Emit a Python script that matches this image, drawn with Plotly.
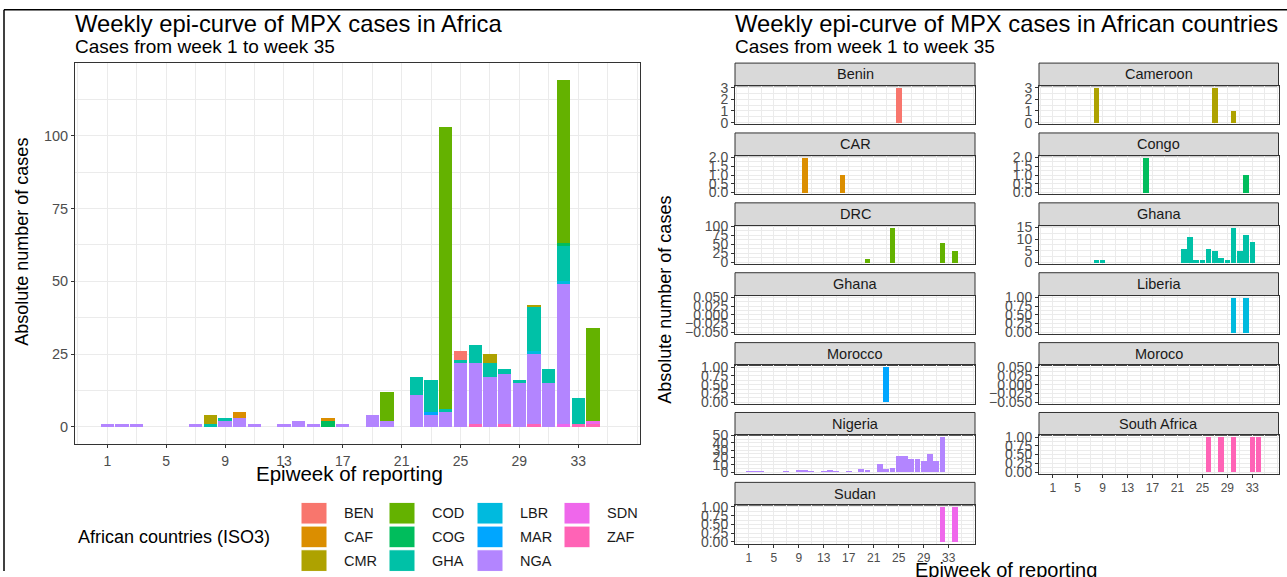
import plotly.graph_objects as go

W, H = 1287, 577

# ---------------- data ----------------
iso_codes = ["BEN", "CAF", "CMR", "COD", "COG", "GHA", "LBR", "MAR", "NGA", "SDN", "ZAF"]
iso_colors = ["#F8766D", "#DB8E00", "#AEA200", "#64B200", "#00BD5C", "#00C1A7",
              "#00BADE", "#00A6FF", "#B385FF", "#EF67EB", "#FF63B6"]

weeks_BEN = [25]
cases_BEN = [3]
weeks_CAF = [10, 16]
cases_CAF = [2, 1]
weeks_CMR = [8, 27, 30]
cases_CMR = [3, 3, 1]
weeks_COD = [20, 24, 32, 34]
cases_COD = [10, 97, 56, 32]
weeks_COG = [16, 32]
cases_COG = [2, 1]
weeks_GHA = [8, 9, 22, 23, 24, 25, 26, 27, 28, 29, 30, 31, 32, 33]
cases_GHA = [1, 1, 6, 11, 1, 1, 6, 5, 2, 1, 15, 5, 12, 9]
weeks_LBR = [30, 32]
cases_LBR = [1, 1]
weeks_MAR = [23]
cases_MAR = [1]
weeks_NGA = [1, 2, 3, 7, 9, 10, 11, 13, 14, 15, 17, 19, 20, 22, 23, 24, 25, 26, 27, 28, 29, 30, 31, 32]
cases_NGA = [1, 1, 1, 1, 2, 3, 1, 1, 2, 1, 1, 4, 2, 11, 4, 5, 22, 21, 17, 17, 15, 24, 15, 48]
weeks_SDN = [32, 34]
cases_SDN = [1, 1]
weeks_ZAF = [26, 28, 30, 33, 34]
cases_ZAF = [1, 1, 1, 1, 1]

series = {
    "BEN": (weeks_BEN, cases_BEN), "CAF": (weeks_CAF, cases_CAF), "CMR": (weeks_CMR, cases_CMR),
    "COD": (weeks_COD, cases_COD), "COG": (weeks_COG, cases_COG), "GHA": (weeks_GHA, cases_GHA),
    "LBR": (weeks_LBR, cases_LBR), "MAR": (weeks_MAR, cases_MAR), "NGA": (weeks_NGA, cases_NGA),
    "SDN": (weeks_SDN, cases_SDN), "ZAF": (weeks_ZAF, cases_ZAF),
}
color_of = dict(zip(iso_codes, iso_colors))

# facet panels: (strip label, iso code or None)
panel_names = ["Benin", "Cameroon", "CAR", "Congo", "DRC", "Ghana", "Ghana", "Liberia",
               "Morocco", "Moroco", "Nigeria", "South Africa", "Sudan"]
panel_codes = ["BEN", "CMR", "CAF", "COG", "COD", "GHA", None, "LBR",
               "MAR", None, "NGA", "ZAF", "SDN"]
panel_ydtick = [1, 1, 0.5, 0.5, 25, 5, 0.025, 0.25, 0.25, 0.025, 10, 0.25, 0.25]
panel_yfmt = ["d", "d", ".1f", ".1f", "d", "d", ".3f", ".2f", ".2f", ".3f", "d", ".2f", ".2f"]

x_tickvals = [1, 5, 9, 13, 17, 21, 25, 29, 33]
x_range = [-1.2, 37.2]

# ---------------- helpers ----------------
def X(px):
    return px / W

def Y(py):
    # target pixel row (top = 0) -> paper fraction, with a small correction
    yf = (py - 8.2) / 0.976
    return 1 - yf / H

FONT = "Liberation Sans, Arial, sans-serif"
GRID = "#EBEBEB"
BORDER = "#333333"
TICKTXT = "#4D4D4D"

fig = go.Figure()
shapes = []
annots = []

# ---------------- left chart ----------------
stack_order = ["ZAF", "SDN", "NGA", "MAR", "LBR", "GHA", "COG", "COD", "CMR", "CAF", "BEN"]
for code in stack_order:
    wk, cs = series[code]
    fig.add_trace(go.Bar(x=wk, y=cs, width=0.9, marker=dict(color=color_of[code], line=dict(width=0)),
                         name=code, xaxis="x", yaxis="y", showlegend=False))

lx0, lx1, ly0, ly1 = 75, 640, 63.3, 444.5
left_max = 119
fig.update_layout(
    xaxis=dict(domain=[X(lx0), X(lx1)], anchor="y", range=x_range, tickvals=x_tickvals,
               showgrid=True, gridcolor=GRID, gridwidth=1.1,
               minor=dict(tick0=1, dtick=2, showgrid=True, gridcolor=GRID, gridwidth=0.6),
               showline=True, mirror=True, linecolor=BORDER, linewidth=1,
               ticks="outside", ticklen=3, tickcolor=BORDER, zeroline=False,
               ticklabelstandoff=1,
               tickfont=dict(family=FONT, size=14, color=TICKTXT)),
    yaxis=dict(domain=[Y(ly1), Y(ly0)], anchor="x", range=[-0.05 * left_max, 1.05 * left_max],
               tickvals=[0, 25, 50, 75, 100], showgrid=True, gridcolor=GRID, gridwidth=1.1,
               minor=dict(tick0=0, dtick=12.5, showgrid=True, gridcolor=GRID, gridwidth=0.6),
               showline=True, mirror=True, linecolor=BORDER, linewidth=1,
               ticks="outside", ticklen=3, tickcolor=BORDER, zeroline=False,
               tickfont=dict(family=FONT, size=14.5, color=TICKTXT)),
)

# ---------------- facet panels ----------------
col_x = [(735, 975), (1039, 1278.5)]
for i, (name, code) in enumerate(zip(panel_names, panel_codes)):
    k = i + 2
    row, col = divmod(i, 2)
    st = 63.3 + 69.9 * row
    sb = st + 22.8
    pb = st + 61.3
    cx0, cx1 = col_x[col]
    bottom = (name == "Sudan") or (name == "South Africa")
    if code is not None:
        wk, cs = series[code]
        ymax = max(cs)
        yr = [-0.05 * ymax, 1.05 * ymax]
        fig.add_trace(go.Bar(x=wk, y=cs, width=0.9, marker=dict(color=color_of[code], line=dict(width=0)),
                             xaxis=f"x{k}", yaxis=f"y{k}", showlegend=False))
    else:
        yr = [-0.055, 0.055]
        fig.add_trace(go.Bar(x=[], y=[], xaxis=f"x{k}", yaxis=f"y{k}", showlegend=False))
    dt = panel_ydtick[i]
    fig.layout[f"xaxis{k}"] = dict(
        domain=[X(cx0), X(cx1)], anchor=f"y{k}", range=x_range, tickvals=x_tickvals,
        showgrid=True, gridcolor=GRID, gridwidth=1.1,
        minor=dict(tick0=1, dtick=2, showgrid=True, gridcolor=GRID, gridwidth=0.6),
        showline=True, mirror=True, linecolor=BORDER, linewidth=1, zeroline=False,
        ticks="outside" if bottom else "", ticklen=3, tickcolor=BORDER,
        showticklabels=bottom, tickfont=dict(family=FONT, size=12, color=TICKTXT))
    fig.layout[f"yaxis{k}"] = dict(
        domain=[Y(pb), Y(sb)], anchor=f"x{k}", range=yr, tick0=0, dtick=dt,
        tickformat=panel_yfmt[i], showgrid=True, gridcolor=GRID, gridwidth=1.1,
        minor=dict(tick0=0, dtick=dt / 2, showgrid=True, gridcolor=GRID, gridwidth=0.6),
        showline=True, mirror=True, linecolor=BORDER, linewidth=1, zeroline=False,
        ticks="outside", ticklen=3, tickcolor=BORDER,
        tickfont=dict(family=FONT, size=14, color=TICKTXT))
    shapes.append(dict(type="rect", xref="paper", yref="paper", x0=X(cx0), x1=X(cx1),
                       y0=Y(sb), y1=Y(st), fillcolor="#D9D9D9", line=dict(color=BORDER, width=1),
                       layer="below"))
    annots.append(dict(x=X((cx0 + cx1) / 2), y=Y((st + sb) / 2), xref="paper", yref="paper",
                       text=name, showarrow=False, xanchor="center", yanchor="middle",
                       font=dict(family=FONT, size=14.5, color="#1A1A1A")))

# ---------------- titles and axis titles ----------------
def txt(x, y, s, size, color="black", xanchor="left", angle=0):
    annots.append(dict(x=X(x), y=Y(y), xref="paper", yref="paper", text=s, showarrow=False,
                       xanchor=xanchor, yanchor="middle", textangle=angle,
                       font=dict(family=FONT, size=size, color=color)))

txt(73, 24, "Weekly epi-curve of MPX cases in Africa", 23.8)
txt(73, 47, "Cases from week 1 to week 35", 19)
txt(733, 24, "Weekly epi-curve of MPX cases in African countries", 23.8)
txt(733, 47, "Cases from week 1 to week 35", 19)
txt(22, 242, "Absolute number of cases", 18, angle=-90, xanchor="center")
txt((lx0 + lx1) / 2 - 8, 474, "Epiweek of reporting", 20.5, xanchor="center")
txt(665, 300, "Absolute number of cases", 18, angle=-90, xanchor="center")
txt(1006, 570, "Epiweek of reporting", 20, xanchor="center")

# ---------------- legend (manual) ----------------
txt(76, 537, "African countries (ISO3)", 18)
legend_cols = [["BEN", "CAF", "CMR"], ["COD", "COG", "GHA"], ["LBR", "MAR", "NGA"], ["SDN", "ZAF"]]
key_x = [301, 389, 477, 564]
key_y = [502.7, 526.4, 550.1]
for c, codes in enumerate(legend_cols):
    for r, code in enumerate(codes):
        kx, ky = key_x[c], key_y[r]
        shapes.append(dict(type="rect", xref="paper", yref="paper", x0=X(kx), x1=X(kx + 26),
                           y0=Y(ky + 21.7), y1=Y(ky), fillcolor=color_of[code],
                           line=dict(color="white", width=1)))
        txt(kx + 41, ky + 11, code, 14.5, color="#1A1A1A")

# frame lines
shapes.append(dict(type="line", xref="paper", yref="paper", x0=X(4), x1=1, y0=Y(10), y1=Y(10),
                   line=dict(color="black", width=1.5)))
shapes.append(dict(type="line", xref="paper", yref="paper", x0=X(4), x1=X(4), y0=Y(10), y1=0,
                   line=dict(color="black", width=1.5)))

fig.update_layout(
    width=W, height=H, margin=dict(l=0, r=0, t=0, b=0),
    paper_bgcolor="white", plot_bgcolor="white",
    barmode="stack", bargap=0, showlegend=False,
    shapes=shapes, annotations=annots,
    font=dict(family=FONT),
)

pin_top_left = (
    "var de=document.documentElement, b=document.body;"
    "de.style.margin='0';de.style.padding='0';de.style.height='577px';de.style.overflow='hidden';"
    "b.style.margin='0';b.style.padding='0';b.style.height='577px';b.style.overflow='hidden';"
    "var gd=document.getElementById('{plot_id}');"
    "gd.style.position='fixed';gd.style.left='0px';gd.style.top='0px';"
    "if(gd.parentNode){gd.parentNode.style.height='0px';gd.parentNode.style.overflow='visible';}"
    "window.scrollTo(0,0);"
)
fig.write_html("out.html", post_script=pin_top_left, config={"displayModeBar": False})
